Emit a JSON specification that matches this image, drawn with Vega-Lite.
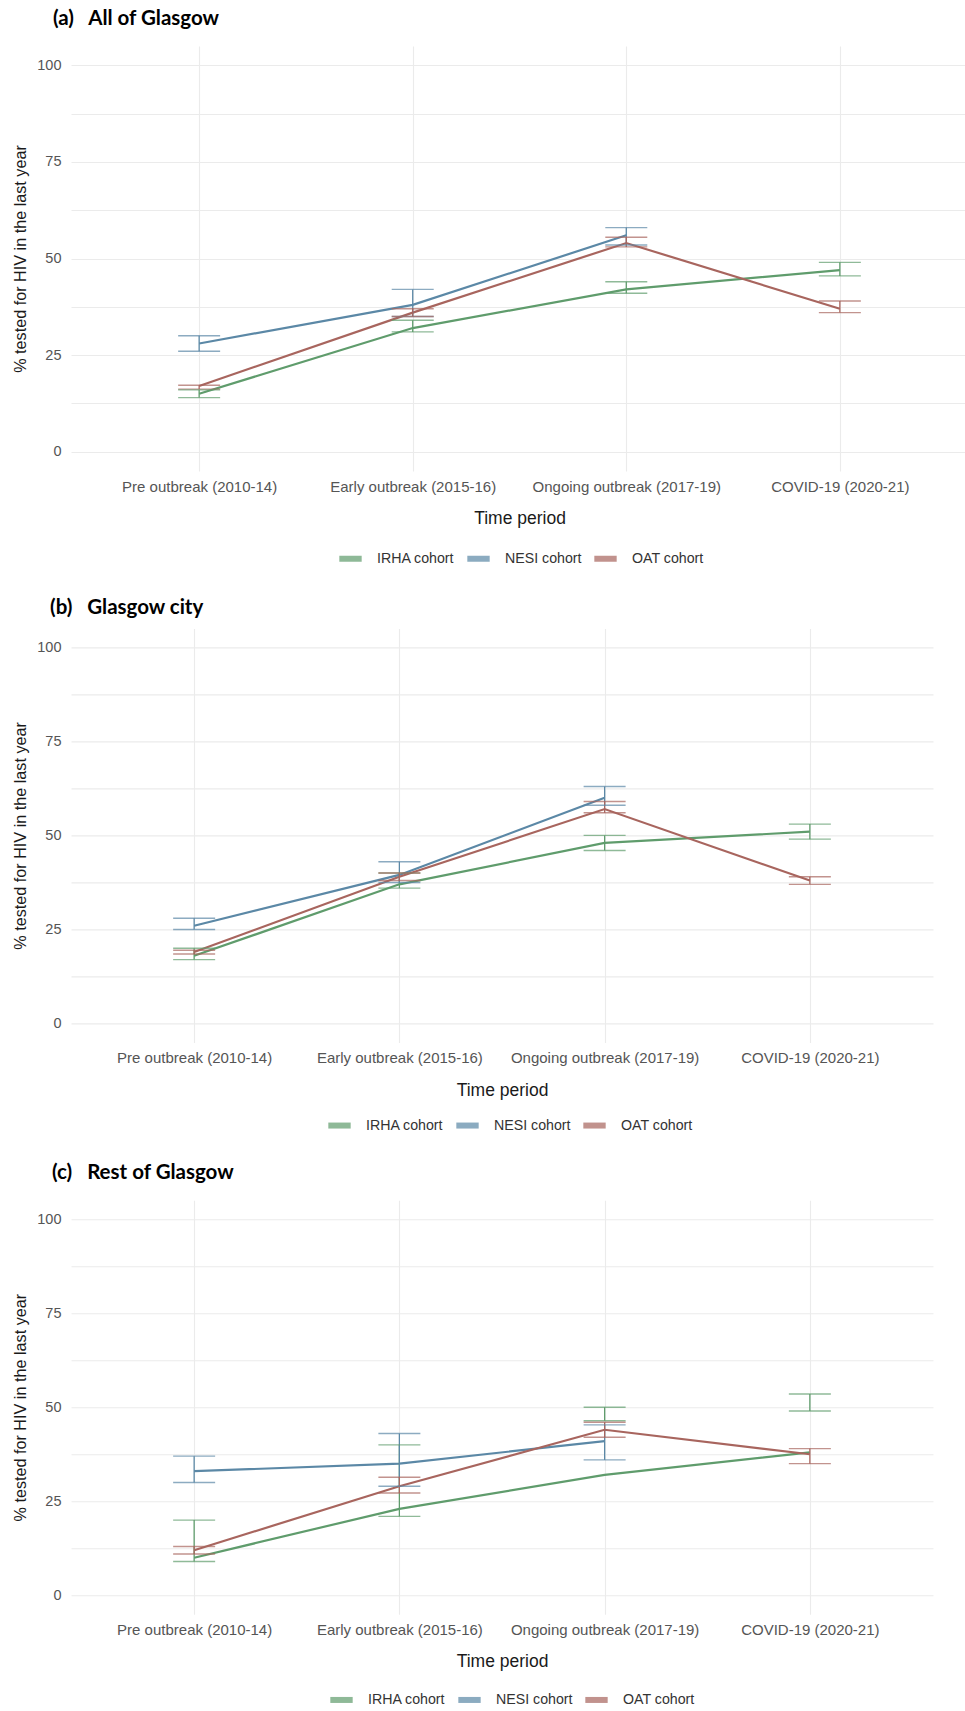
{
  "$schema": "https://vega.github.io/schema/vega-lite/v6.json",
  "padding": {"left": 12, "top": 9, "right": 0, "bottom": 0},
  "background": "white",
  "spacing": 26.4,
  "config": {
    "view": {"stroke": null},
    "font": "Liberation Sans",
    "axis": {"grid": true, "gridColor": "#ebebeb", "gridWidth": 1.1, "domain": false, "ticks": false, "labelColor": "#555555", "titleColor": "#1a1a1a", "titleFontWeight": "normal", "labelFont": "Liberation Sans", "titleFont": "Liberation Sans"},
    "title": {"font": "Lato", "fontWeight": "bold", "fontSize": 20.5, "anchor": "start", "frame": "group", "color": "#000000"},
    "legend": {"labelFont": "Liberation Sans", "labelFontSize": 14.2, "labelColor": "#333333"}
  },
  "datasets": {
    "hiv": [
      {"panel": "a", "period": "Pre outbreak (2010-14)", "cohort": "IRHA cohort", "value": 15, "lo": 14, "hi": 16},
      {"panel": "a", "period": "Early outbreak (2015-16)", "cohort": "IRHA cohort", "value": 32, "lo": 31, "hi": 34},
      {"panel": "a", "period": "Ongoing outbreak (2017-19)", "cohort": "IRHA cohort", "value": 42, "lo": 41, "hi": 44},
      {"panel": "a", "period": "COVID-19 (2020-21)", "cohort": "IRHA cohort", "value": 47, "lo": 45.5, "hi": 49},
      {"panel": "a", "period": "Pre outbreak (2010-14)", "cohort": "NESI cohort", "value": 28, "lo": 26, "hi": 30},
      {"panel": "a", "period": "Early outbreak (2015-16)", "cohort": "NESI cohort", "value": 38, "lo": 35, "hi": 42},
      {"panel": "a", "period": "Ongoing outbreak (2017-19)", "cohort": "NESI cohort", "value": 56, "lo": 53.5, "hi": 58},
      {"panel": "a", "period": "Pre outbreak (2010-14)", "cohort": "OAT cohort", "value": 17, "lo": 16.2, "hi": 17.2},
      {"panel": "a", "period": "Early outbreak (2015-16)", "cohort": "OAT cohort", "value": 36, "lo": 35, "hi": 37},
      {"panel": "a", "period": "Ongoing outbreak (2017-19)", "cohort": "OAT cohort", "value": 54, "lo": 53, "hi": 55.5},
      {"panel": "a", "period": "COVID-19 (2020-21)", "cohort": "OAT cohort", "value": 37, "lo": 36, "hi": 39},

      {"panel": "b", "period": "Pre outbreak (2010-14)", "cohort": "IRHA cohort", "value": 18, "lo": 17, "hi": 20},
      {"panel": "b", "period": "Early outbreak (2015-16)", "cohort": "IRHA cohort", "value": 37, "lo": 36, "hi": 40},
      {"panel": "b", "period": "Ongoing outbreak (2017-19)", "cohort": "IRHA cohort", "value": 48, "lo": 46, "hi": 50},
      {"panel": "b", "period": "COVID-19 (2020-21)", "cohort": "IRHA cohort", "value": 51, "lo": 49, "hi": 53},
      {"panel": "b", "period": "Pre outbreak (2010-14)", "cohort": "NESI cohort", "value": 26, "lo": 25, "hi": 28},
      {"panel": "b", "period": "Early outbreak (2015-16)", "cohort": "NESI cohort", "value": 39.5, "lo": 37.5, "hi": 43},
      {"panel": "b", "period": "Ongoing outbreak (2017-19)", "cohort": "NESI cohort", "value": 60, "lo": 58, "hi": 63},
      {"panel": "b", "period": "Pre outbreak (2010-14)", "cohort": "OAT cohort", "value": 19, "lo": 18.5, "hi": 19.5},
      {"panel": "b", "period": "Early outbreak (2015-16)", "cohort": "OAT cohort", "value": 39, "lo": 38, "hi": 40},
      {"panel": "b", "period": "Ongoing outbreak (2017-19)", "cohort": "OAT cohort", "value": 57, "lo": 56, "hi": 59},
      {"panel": "b", "period": "COVID-19 (2020-21)", "cohort": "OAT cohort", "value": 38, "lo": 37, "hi": 39},

      {"panel": "c", "period": "Pre outbreak (2010-14)", "cohort": "IRHA cohort", "value": 10, "lo": 9, "hi": 20},
      {"panel": "c", "period": "Early outbreak (2015-16)", "cohort": "IRHA cohort", "value": 23, "lo": 21, "hi": 40},
      {"panel": "c", "period": "Ongoing outbreak (2017-19)", "cohort": "IRHA cohort", "value": 32, "lo": 46.4, "hi": 50},
      {"panel": "c", "period": "COVID-19 (2020-21)", "cohort": "IRHA cohort", "value": 38, "lo": 49, "hi": 53.5},
      {"panel": "c", "period": "Pre outbreak (2010-14)", "cohort": "NESI cohort", "value": 33, "lo": 30, "hi": 37},
      {"panel": "c", "period": "Early outbreak (2015-16)", "cohort": "NESI cohort", "value": 35, "lo": 29, "hi": 43},
      {"panel": "c", "period": "Ongoing outbreak (2017-19)", "cohort": "NESI cohort", "value": 41, "lo": 36, "hi": 45.3},
      {"panel": "c", "period": "Pre outbreak (2010-14)", "cohort": "OAT cohort", "value": 12, "lo": 11, "hi": 13},
      {"panel": "c", "period": "Early outbreak (2015-16)", "cohort": "OAT cohort", "value": 29, "lo": 27.2, "hi": 31.4},
      {"panel": "c", "period": "Ongoing outbreak (2017-19)", "cohort": "OAT cohort", "value": 44, "lo": 42, "hi": 46},
      {"panel": "c", "period": "COVID-19 (2020-21)", "cohort": "OAT cohort", "value": 37.5, "lo": 35, "hi": 39}
    ]
  },
  "vconcat": [
    {
      "title": {"text": "(a)\u00a0\u00a0\u00a0All of Glasgow", "dx": -18, "offset": 16.3},
      "width": 897, "height": 425,
      "data": {"name": "hiv"},
      "transform": [{"filter": "datum.panel === 'a'"}],
      "encoding": {
        "x": {"field": "period", "type": "nominal", "sort": ["Pre outbreak (2010-14)", "Early outbreak (2015-16)", "Ongoing outbreak (2017-19)", "COVID-19 (2020-21)"], "scale": {"type": "point", "padding": 0.6}, "axis": {"title": "Time period", "labelAngle": 0, "labelFontSize": 15, "labelLimit": 400, "labelOverlap": false, "titleFontSize": 17.5, "labelPadding": 8, "titlePadding": 15.7}},
        "color": {"field": "cohort", "type": "nominal", "scale": {"domain": ["IRHA cohort", "NESI cohort", "OAT cohort"], "range": ["#5f9c6c", "#5b88a6", "#a8655e"]}, "legend": {"title": null, "orient": "none", "direction": "horizontal", "legendX": 265, "legendY": 498, "symbolType": "stroke", "symbolStrokeWidth": 6, "symbolSize": 500, "labelOffset": 12, "columnPadding": 0}}
      },
      "layer": [
        {"mark": {"type": "line", "strokeWidth": 2.2}, "encoding": {"y": {"field": "value", "type": "quantitative", "scale": {"domain": [-5, 105], "nice": false, "zero": false}, "axis": {"title": "% tested for HIV in the last year", "values": [0, 12.5, 25, 37.5, 50, 62.5, 75, 87.5, 100], "labelExpr": "datum.value % 25 === 0 ? datum.label : ''", "labelFontSize": 14.5, "titleFontSize": 16.2, "labelPadding": 10, "titlePadding": 8}}}},
        {"mark": {"type": "rule", "strokeWidth": 1.3}, "encoding": {"y": {"field": "lo", "type": "quantitative"}, "y2": {"field": "hi"}}},
        {"mark": {"type": "tick", "thickness": 1.4, "size": 42}, "encoding": {"y": {"field": "lo", "type": "quantitative"}}},
        {"mark": {"type": "tick", "thickness": 1.4, "size": 42}, "encoding": {"y": {"field": "hi", "type": "quantitative"}}}
      ]
    },
    {
      "spacing": 24.8,
      "vconcat": [
        {
          "title": {"text": "(b)\u00a0\u00a0\u00a0Glasgow city", "dx": -21, "offset": 9.75},
          "width": 862, "height": 414,
          "data": {"name": "hiv"},
          "transform": [{"filter": "datum.panel === 'b'"}],
          "encoding": {
            "x": {"field": "period", "type": "nominal", "sort": ["Pre outbreak (2010-14)", "Early outbreak (2015-16)", "Ongoing outbreak (2017-19)", "COVID-19 (2020-21)"], "scale": {"type": "point", "padding": 0.6}, "axis": {"title": "Time period", "labelAngle": 0, "labelFontSize": 15, "labelLimit": 400, "labelOverlap": false, "titleFontSize": 17.5, "labelPadding": 8, "titlePadding": 15.7}},
            "color": {"field": "cohort", "type": "nominal", "scale": {"domain": ["IRHA cohort", "NESI cohort", "OAT cohort"], "range": ["#5f9c6c", "#5b88a6", "#a8655e"]}, "legend": {"title": null, "orient": "none", "direction": "horizontal", "legendX": 254, "legendY": 482.4, "symbolType": "stroke", "symbolStrokeWidth": 6, "symbolSize": 500, "labelOffset": 12, "columnPadding": 0}}
          },
          "layer": [
            {"mark": {"type": "line", "strokeWidth": 2.2}, "encoding": {"y": {"field": "value", "type": "quantitative", "scale": {"domain": [-5, 105], "nice": false, "zero": false}, "axis": {"title": "% tested for HIV in the last year", "values": [0, 12.5, 25, 37.5, 50, 62.5, 75, 87.5, 100], "labelExpr": "datum.value % 25 === 0 ? datum.label : ''", "labelFontSize": 14.5, "titleFontSize": 16.2, "labelPadding": 10, "titlePadding": 8}}}},
            {"mark": {"type": "rule", "strokeWidth": 1.3}, "encoding": {"y": {"field": "lo", "type": "quantitative"}, "y2": {"field": "hi"}}},
            {"mark": {"type": "tick", "thickness": 1.4, "size": 42}, "encoding": {"y": {"field": "lo", "type": "quantitative"}}},
            {"mark": {"type": "tick", "thickness": 1.4, "size": 42}, "encoding": {"y": {"field": "hi", "type": "quantitative"}}}
          ]
        },
        {
          "title": {"text": "(c)\u00a0\u00a0\u00a0Rest of Glasgow", "dx": -19, "offset": 16.45},
          "width": 862, "height": 414,
          "data": {"name": "hiv"},
          "transform": [{"filter": "datum.panel === 'c'"}],
          "encoding": {
            "x": {"field": "period", "type": "nominal", "sort": ["Pre outbreak (2010-14)", "Early outbreak (2015-16)", "Ongoing outbreak (2017-19)", "COVID-19 (2020-21)"], "scale": {"type": "point", "padding": 0.6}, "axis": {"title": "Time period", "labelAngle": 0, "labelFontSize": 15, "labelLimit": 400, "labelOverlap": false, "titleFontSize": 17.5, "labelPadding": 8, "titlePadding": 15.7}},
            "color": {"field": "cohort", "type": "nominal", "scale": {"domain": ["IRHA cohort", "NESI cohort", "OAT cohort"], "range": ["#5f9c6c", "#5b88a6", "#a8655e"]}, "legend": {"title": null, "orient": "none", "direction": "horizontal", "legendX": 256, "legendY": 485, "symbolType": "stroke", "symbolStrokeWidth": 6, "symbolSize": 500, "labelOffset": 12, "columnPadding": 0}}
          },
          "layer": [
            {"mark": {"type": "line", "strokeWidth": 2.2}, "encoding": {"y": {"field": "value", "type": "quantitative", "scale": {"domain": [-5, 105], "nice": false, "zero": false}, "axis": {"title": "% tested for HIV in the last year", "values": [0, 12.5, 25, 37.5, 50, 62.5, 75, 87.5, 100], "labelExpr": "datum.value % 25 === 0 ? datum.label : ''", "labelFontSize": 14.5, "titleFontSize": 16.2, "labelPadding": 10, "titlePadding": 8}}}},
            {"mark": {"type": "rule", "strokeWidth": 1.3}, "encoding": {"y": {"field": "lo", "type": "quantitative"}, "y2": {"field": "hi"}}},
            {"mark": {"type": "tick", "thickness": 1.4, "size": 42}, "encoding": {"y": {"field": "lo", "type": "quantitative"}}},
            {"mark": {"type": "tick", "thickness": 1.4, "size": 42}, "encoding": {"y": {"field": "hi", "type": "quantitative"}}}
          ]
        }
      ],
      "resolve": {"scale": {"color": "independent"}, "legend": {"color": "independent"}}
    }
  ],
  "resolve": {"scale": {"color": "independent"}, "legend": {"color": "independent"}}
}
